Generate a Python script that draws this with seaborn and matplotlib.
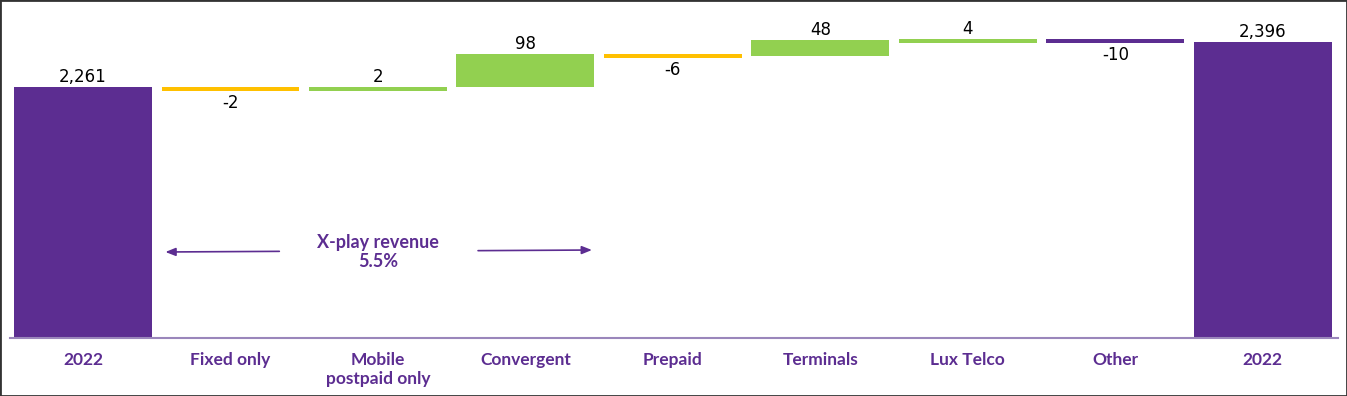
import numpy as np
import pandas as pd
import matplotlib
matplotlib.use("Agg")
import matplotlib.pyplot as plt
import seaborn as sns
from matplotlib.patches import Rectangle

# data
categories = ['2022', 'Fixed only', 'Mobile\npostpaid only', 'Convergent', 'Prepaid',
              'Terminals', 'Lux Telco', 'Other', '2022']
values = [2261, -2, 2, 98, -6, 48, 4, -10, 2396]
kinds = ['total', 'neg', 'pos', 'pos', 'neg', 'pos', 'pos', 'other', 'total']
labels = ['2,261', '-2', '2', '98', '-6', '48', '4', '-10', '2,396']

PURPLE = '#5c2d91'
GREEN = '#92d050'
YELLOW = '#ffc000'
colors = {'total': PURPLE, 'neg': YELLOW, 'pos': GREEN, 'other': PURPLE}

y_low, y_high = 1508, 2492
min_h = 12  # thin deltas still get a visible bar

# waterfall geometry: small bars hang from the upper level
bottoms, heights = [], []
running = 0
for v, k in zip(values, kinds):
    if k == 'total':
        bottoms.append(y_low)
        heights.append(v - y_low)
        running = v
    else:
        h = max(abs(v), min_h)
        top = max(running, running + v)
        bottoms.append(top - h)
        heights.append(h)
        running += v

df = pd.DataFrame({'pos': range(len(categories)), 'height': heights, 'bottom': bottoms})

sns.set_theme(style='white')
fig = plt.figure(figsize=(13.47, 3.96), dpi=100)
ax = fig.add_axes([10 / 1347, 58 / 396, 1328 / 1347, 328 / 396])

sns.barplot(data=df, x='pos', y='height', bottom=df['bottom'].values, width=0.935,
            color=PURPLE, ax=ax, saturation=1, linewidth=0)
for patch, k in zip(ax.patches, kinds):
    patch.set_facecolor(colors[k])

ax.set_xlim(-0.495, 8.51)
ax.set_ylim(y_low, y_high)
ax.set_yticks([])
ax.set_xlabel('')
ax.set_ylabel('')
ax.set_xticks(range(len(categories)))
ax.set_xticklabels(categories, color=PURPLE, fontsize=12.5, fontweight='bold',
                   family='Lato', linespacing=1.25, va='top')
ax.tick_params(axis='x', length=0, pad=10)
for s in ['top', 'left', 'right']:
    ax.spines[s].set_visible(False)
ax.spines['bottom'].set_color('#9a86bb')
ax.spines['bottom'].set_linewidth(1.5)

# value labels
for i, (b, h, k, lab) in enumerate(zip(bottoms, heights, kinds, labels)):
    if k in ('total', 'pos'):
        ax.annotate(lab, (i, b + h), xytext=(0, 1), textcoords='offset points',
                    ha='center', va='bottom', fontsize=12, color='black')
    else:
        ax.annotate(lab, (i, b), xytext=(0, -2), textcoords='offset points',
                    ha='center', va='top', fontsize=12, color='black')

# X-play annotation
ax.text(2, 1766, 'X-play revenue\n5.5%', ha='center', va='center', color=PURPLE,
        fontsize=13, fontweight='bold', family='Lato', linespacing=1.2)
arrow = dict(arrowstyle='-|>,head_length=0.5,head_width=0.2', color=PURPLE, lw=1.2)
ax.annotate('', xy=(0.54, 1766), xytext=(1.35, 1768), arrowprops=arrow)
ax.annotate('', xy=(3.47, 1772), xytext=(2.66, 1770), arrowprops=arrow)

fig.patches.append(Rectangle((0, 0), 1, 1, transform=fig.transFigure, fill=False,
                             edgecolor='#333333', linewidth=2))

fig.savefig('out.png', dpi=100)
